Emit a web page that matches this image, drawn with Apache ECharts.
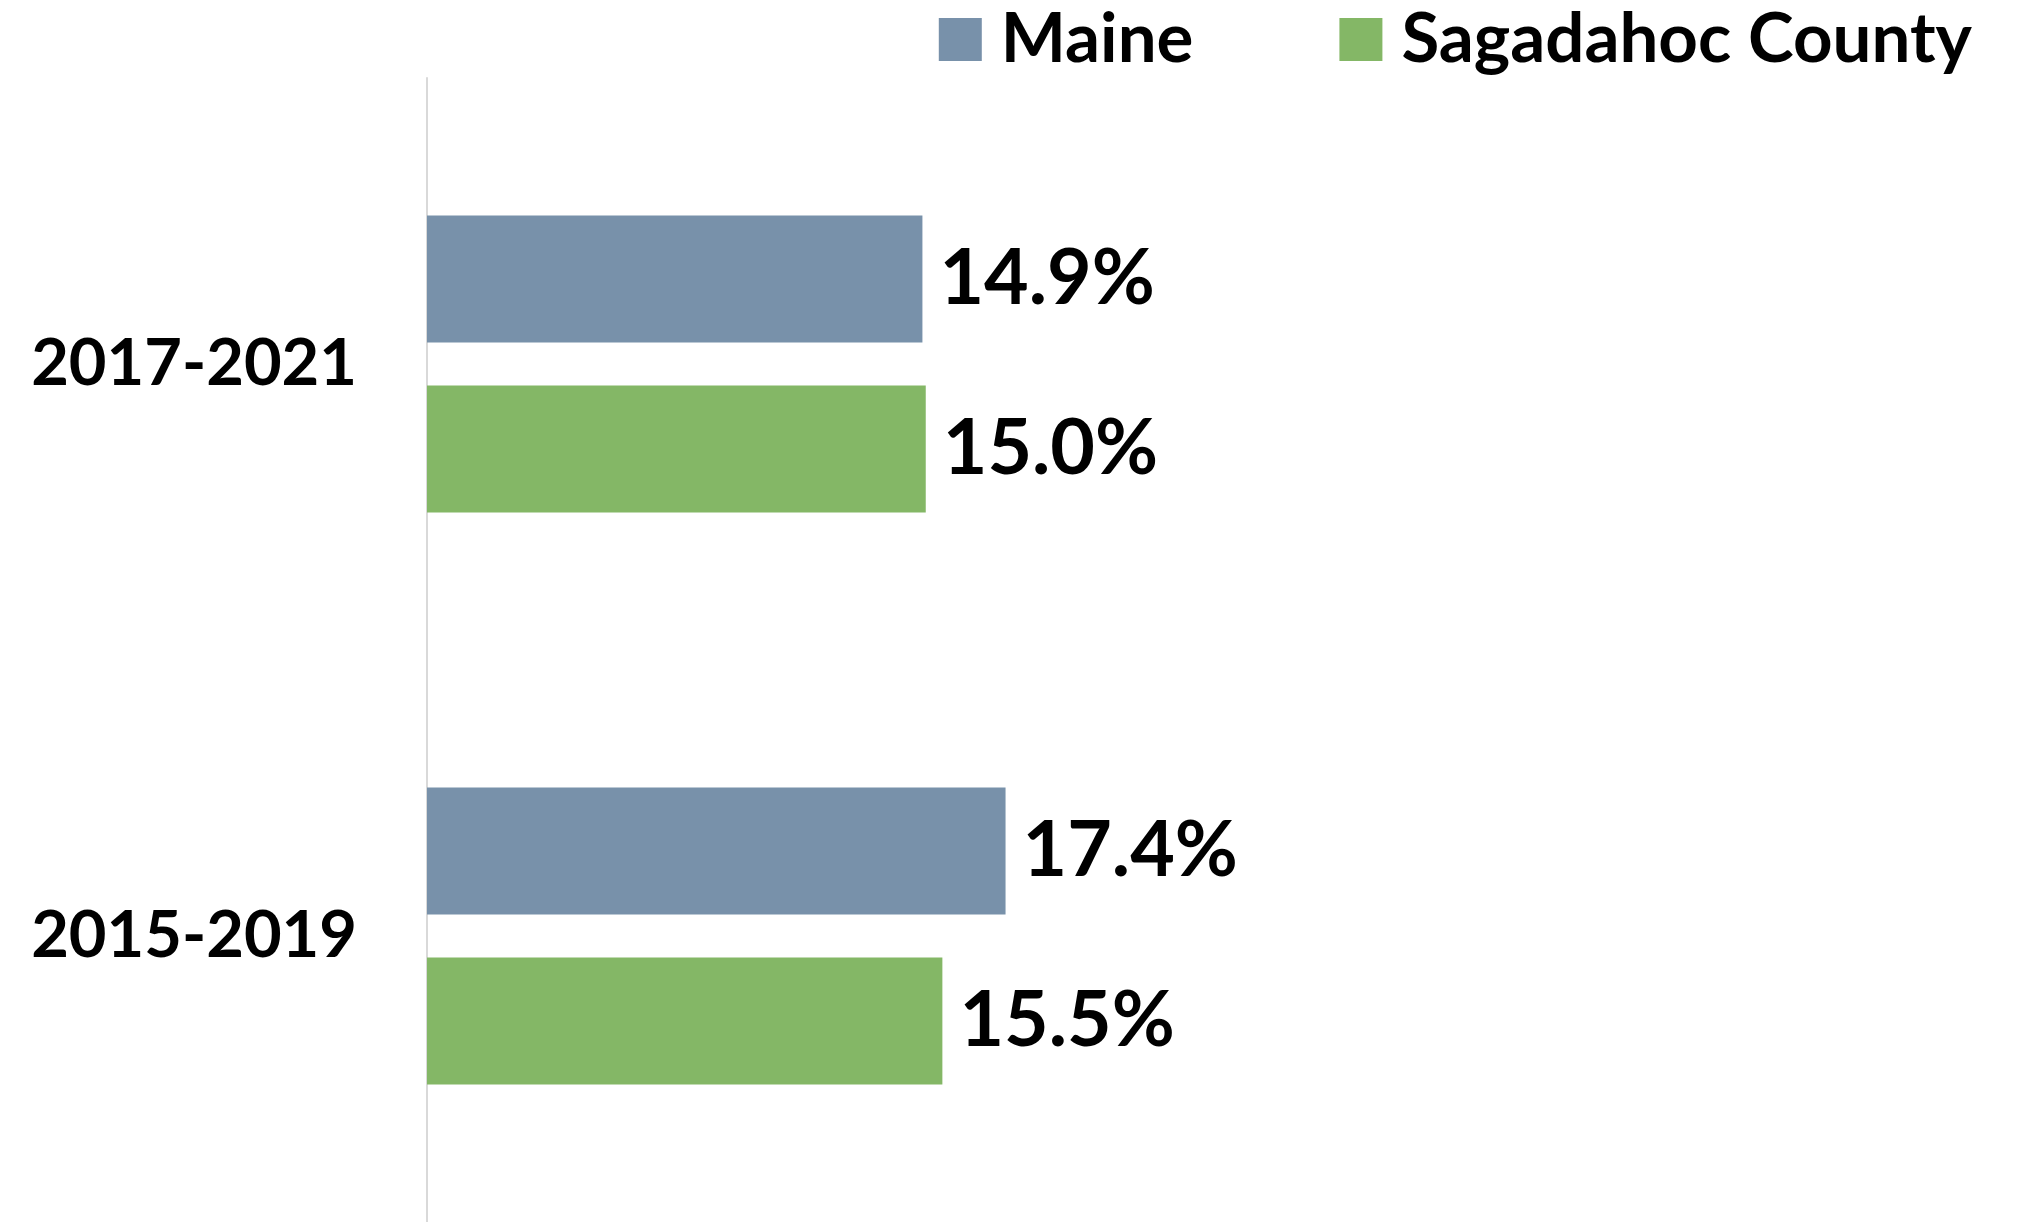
<!DOCTYPE html>
<html>
<head>
<meta charset="utf-8">
<script src="https://cdn.jsdelivr.net/npm/echarts@6/dist/echarts.min.js"></script>
<style>
  html, body { margin: 0; padding: 0; background: #fff; }
  #chart { width: 2021px; height: 1222px; }
</style>
</head>
<body>
<div id="chart"></div>
<script>
// Periods, top to bottom
const periods = ['2017-2021', '2015-2019'];
const seriesNames = ['Maine', 'Sagadahoc County'];
// Percent values per period
const maine = [14.9, 17.4];
const sagadahoc = [15.0, 15.5];

const FONT = 'Lato';
const chart = echarts.init(document.getElementById('chart'), null, { renderer: 'canvas' });

const valueLabel = {
  show: true,
  position: 'right',
  distance: 17,
  fontFamily: FONT,
  fontWeight: 'bold',
  fontSize: 77,
  color: '#000',
  formatter: p => p.value.toFixed(1) + '%'
};

chart.setOption({
  animation: false,
  backgroundColor: '#fff',
  legend: {
    data: seriesNames,
    top: 0,
    right: 44,
    itemWidth: 43,
    itemHeight: 43,
    itemGap: 146,
    icon: 'rect',
    textStyle: {
      fontFamily: FONT,
      fontWeight: 'bold',
      fontSize: 69,
      color: '#000',
      padding: [0, 0, 0, 14]
    }
  },
  grid: { left: 427, top: 78, height: 1152, width: 1330, containLabel: false },
  xAxis: {
    type: 'value',
    min: 0,
    max: 40,
    show: false
  },
  yAxis: {
    type: 'category',
    data: periods,
    inverse: true,
    axisLine: { show: true, lineStyle: { color: '#d9d9d9', width: 2 } },
    axisTick: { show: false },
    axisLabel: {
      margin: 70,
      fontFamily: FONT,
      fontWeight: 'bold',
      fontSize: 65,
      color: '#000'
    }
  },
  series: [
    {
      name: seriesNames[0],
      type: 'bar',
      data: maine,
      barWidth: 127,
      barGap: '34%',
      itemStyle: { color: '#7891aa' },
      label: valueLabel
    },
    {
      name: seriesNames[1],
      type: 'bar',
      data: sagadahoc,
      barWidth: 127,
      barGap: '34%',
      itemStyle: { color: '#84b766' },
      label: valueLabel
    }
  ]
});
</script>
</body>
</html>
